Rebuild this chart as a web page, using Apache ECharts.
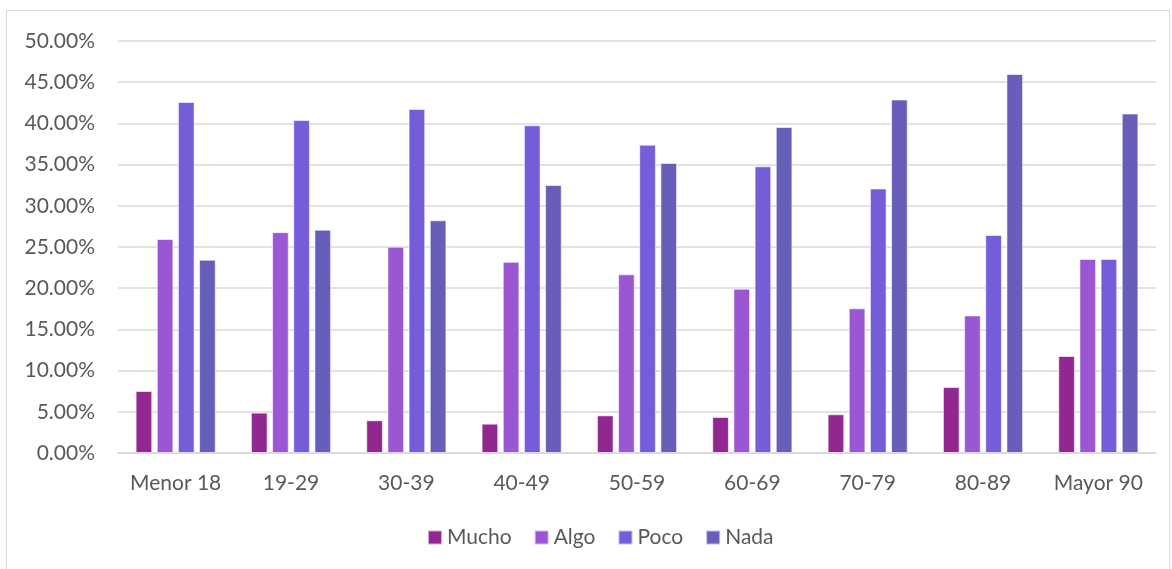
<!DOCTYPE html>
<html>
<head>
<meta charset="utf-8">
<script src="https://cdn.jsdelivr.net/npm/echarts@6/dist/echarts.min.js"></script>
<style>
  html, body { margin: 0; padding: 0; background: #fff; }
  #frame { position: absolute; left: 6px; top: 10px; width: 1164px; height: 570px; border: 1px solid #d9d9d9; box-sizing: border-box; }
  #chart { position: absolute; left: 0; top: 0; width: 1172px; height: 569px; }
</style>
</head>
<body>
<div id="frame"></div>
<div id="chart"></div>
<script>
// categorias (grupos de edad)
var categorias = ['Menor 18', '19-29', '30-39', '40-49', '50-59', '60-69', '70-79', '80-89', 'Mayor 90'];
// valores en %
var mucho = [7.52, 4.90, 3.97, 3.56, 4.57, 4.37, 4.70, 8.00, 11.77];
var algo  = [25.97, 26.80, 25.04, 23.20, 21.68, 19.94, 17.56, 16.70, 23.54];
var poco  = [42.60, 40.40, 41.75, 39.77, 37.42, 34.79, 32.10, 26.46, 23.54];
var nada  = [23.46, 27.10, 28.24, 32.52, 35.20, 39.56, 42.90, 46.00, 41.20];
var colores = ['#92278F', '#9B57D3', '#755DD9', '#665EB8'];

var myChart = echarts.init(document.getElementById('chart'));

function serie(nombre, datos) {
  return {
    name: nombre,
    type: 'bar',
    data: datos,
    barGap: '27%',
    barCategoryGap: '30.5%',
    itemStyle: {
      borderColor: 'rgba(255,255,255,0.6)',
      borderWidth: 1
    }
  };
}

myChart.setOption({
  color: colores,
  animation: false,
  textStyle: { fontFamily: 'Lato' },
  grid: {
    left: 118,
    right: 16,
    top: 41,
    bottom: 116
  },
  legend: {
    left: 422,
    top: 522,
    itemWidth: 14,
    itemHeight: 14,
    itemGap: 22,
    icon: 'rect',
    textStyle: { fontSize: 21, color: '#595959', fontFamily: 'Lato' },
    data: ['Mucho', 'Algo', 'Poco', 'Nada']
  },
  xAxis: {
    type: 'category',
    data: categorias,
    axisLine: { lineStyle: { color: '#d9d9d9', width: 1.5 } },
    axisTick: { show: false },
    axisLabel: { interval: 0, color: '#595959', fontSize: 21, margin: 20, fontFamily: 'Lato' }
  },
  yAxis: {
    type: 'value',
    min: 0,
    max: 50,
    interval: 5,
    axisLine: { show: false },
    axisTick: { show: false },
    splitLine: { lineStyle: { color: '#d9d9d9', width: 1.5 } },
    axisLabel: {
      color: '#595959',
      fontSize: 21,
      margin: 23,
      fontFamily: 'Lato',
      formatter: function (v) { return v.toFixed(2) + '%'; }
    }
  },
  series: [
    serie('Mucho', mucho),
    serie('Algo', algo),
    serie('Poco', poco),
    serie('Nada', nada)
  ]
});
</script>
</body>
</html>
